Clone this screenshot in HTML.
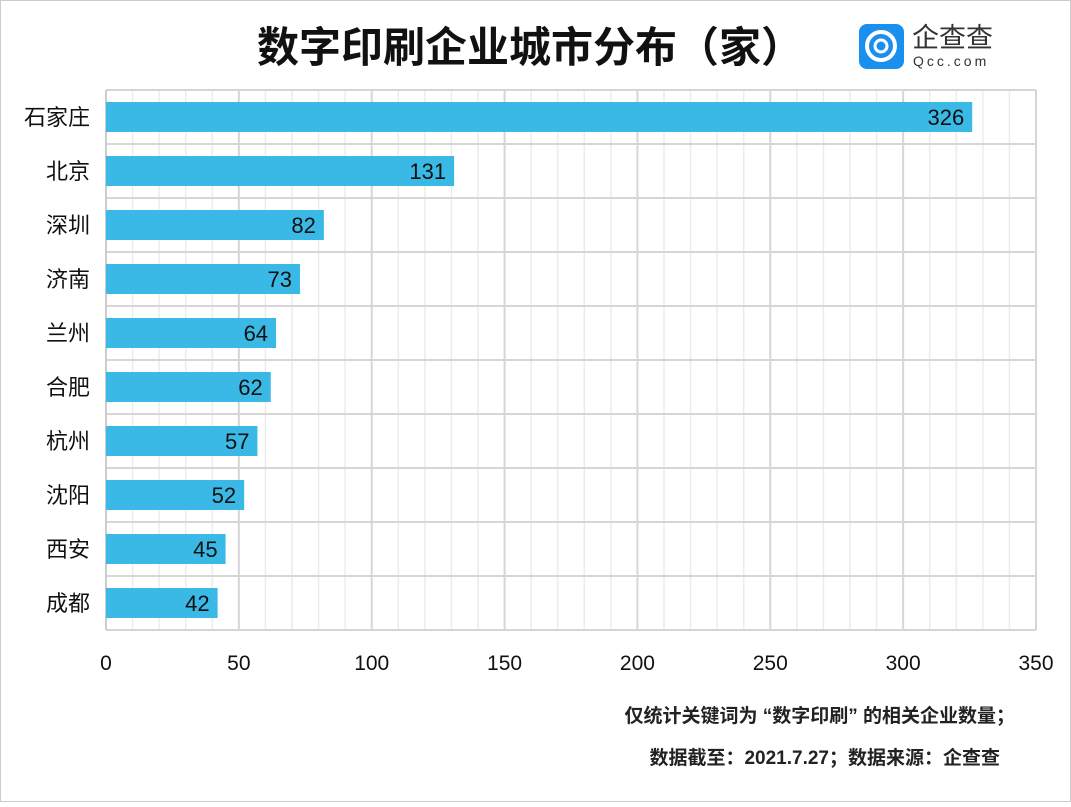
<!DOCTYPE html>
<html><head><meta charset="utf-8"><style>
body{margin:0;background:#fff;}
svg text{font-family:"Liberation Sans","Noto Sans CJK SC",sans-serif;}
</style></head><body>
<svg width="1071" height="802" viewBox="0 0 1071 802" xmlns="http://www.w3.org/2000/svg">
<rect x="0.5" y="0.5" width="1070" height="801" fill="#fff" stroke="#ccc"/>
<text x="530" y="62" text-anchor="middle" font-size="42" font-weight="bold" fill="#111">数字印刷企业城市分布（家）</text>
<g>
<rect x="859" y="24" width="45" height="45" rx="8" fill="#1a8fee"/>
<circle cx="881" cy="46" r="14" fill="none" stroke="#fff" stroke-width="4"/>
<circle cx="881" cy="46" r="6" fill="none" stroke="#fff" stroke-width="3"/>
<text x="912" y="47" font-size="27" fill="#333">企查查</text>
<text x="913" y="66" font-size="14" fill="#333" letter-spacing="3">Qcc.com</text>
</g>
<g id="grid"></g>
<g id="bars"></g>
<g id="axis"></g>
<text x="1015" y="722" text-anchor="end" font-size="19" font-weight="bold" fill="#222">仅统计关键词为 “数字印刷” 的相关企业数量；</text>
<text x="1000" y="764" text-anchor="end" font-size="19" font-weight="bold" fill="#222">数据截至：2021.7.27；数据来源：企查查</text>
</svg>
<script>
const categories=["石家庄","北京","深圳","济南","兰州","合肥","杭州","沈阳","西安","成都"];
const values=[326,131,82,73,64,62,57,52,45,42];
const ticks=[0,50,100,150,200,250,300,350];
const NS="http://www.w3.org/2000/svg";
const x0=106,x1=1036,yTop=90,rowH=54,xmax=350;
const xs=v=>x0+(x1-x0)*v/xmax;
function mk(p,t,a){const e=document.createElementNS(NS,t);for(const k in a)e.setAttribute(k,a[k]);p.appendChild(e);return e;}
const grid=document.getElementById('grid'),bars=document.getElementById('bars'),axis=document.getElementById('axis');
const yBottom=yTop+rowH*categories.length;
for(let v=10;v<=xmax;v+=10){
 const major=v%50===0;
 const l=mk(grid,'line',{x1:xs(v),x2:xs(v),y1:yTop,y2:yBottom,stroke:major?'#d6d6d6':'#ececec','stroke-width':major?2:1.5});
 
 
}
for(let i=0;i<=categories.length;i++){
 const l=mk(grid,'line',{x1:x0,x2:x1,y1:yTop+i*rowH,y2:yTop+i*rowH,stroke:'#d6d6d6','stroke-width':2});
 
 
}
const ax=mk(grid,'line',{x1:x0,x2:x0,y1:yTop,y2:yBottom,stroke:'#ccc','stroke-width':2});


categories.forEach((c,i)=>{
 const cy=yTop+i*rowH+rowH/2;
 const r=mk(bars,'rect',{x:x0,y:cy-15,width:xs(values[i])-x0,height:30,fill:'#3bb9e6'});
 
 
 const t=mk(bars,'text',{x:xs(values[i])-8,y:cy+8,'text-anchor':'end','font-size':22,'font-weight':500,fill:'#111'});
 t.textContent=values[i];
 
 
 const n=mk(axis,'text',{x:90,y:cy+8,'text-anchor':'end','font-size':22,fill:'#111'});
 n.textContent=c;
 
 
});
ticks.forEach(v=>{
 const t=mk(axis,'text',{x:xs(v),y:670,'text-anchor':'middle','font-size':21,fill:'#111'});
 t.textContent=v;
 
 
});
</script>
</body></html>
